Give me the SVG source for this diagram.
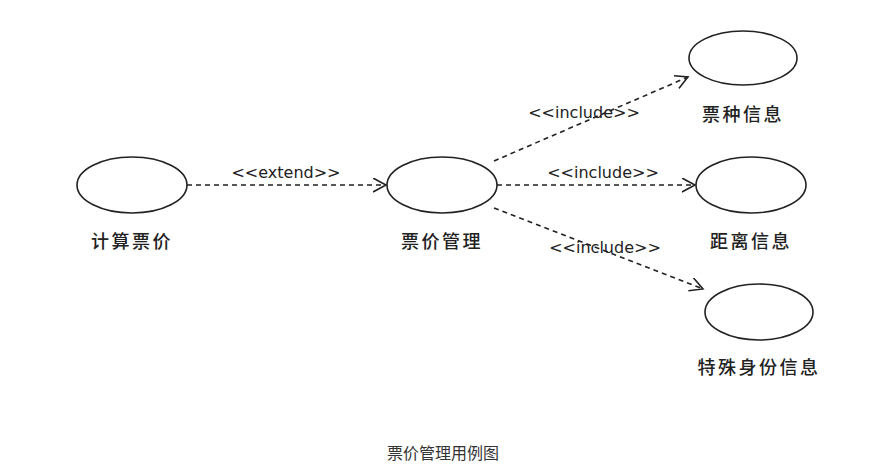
<svg xmlns="http://www.w3.org/2000/svg" width="886" height="471" viewBox="0 0 886 471">
<style>
.uc{fill:#fff;stroke:#222;stroke-width:1.6}
.lbl{font-family:"Noto Sans CJK SC","Noto Sans",sans-serif;font-size:18px;font-weight:500;fill:#222;text-anchor:middle;letter-spacing:2.5px}
.st{font-family:"DejaVu Sans","Noto Sans",sans-serif;font-size:16px;fill:#222;text-anchor:middle}
.dep{fill:none;stroke:#222;stroke-width:1.6;stroke-dasharray:5 4}
.cap{font-family:"Noto Sans CJK SC",sans-serif;font-size:16px;fill:#333;text-anchor:middle}
</style>
<defs>
<marker id="open" markerWidth="16" markerHeight="16" refX="13" refY="7" orient="auto" markerUnits="userSpaceOnUse">
<path d="M0,0 L13,7 L0,14" fill="none" stroke="#222" stroke-width="1.6"/>
</marker>
</defs>
<rect width="886" height="471" fill="#fff"/>
<g id="connectors">
<line class="dep" x1="187" y1="185" x2="386" y2="185" marker-end="url(#open)"/>
<text class="st" x="286" y="178">&lt;&lt;extend&gt;&gt;</text>
<line class="dep" x1="494" y1="161" x2="688" y2="77" marker-end="url(#open)"/>
<text class="st" x="584" y="118">&lt;&lt;include&gt;&gt;</text>
<line class="dep" x1="497" y1="185" x2="695" y2="185" marker-end="url(#open)"/>
<text class="st" x="603" y="178">&lt;&lt;include&gt;&gt;</text>
<line class="dep" x1="494" y1="208" x2="703" y2="289" marker-end="url(#open)"/>
<text class="st" x="605" y="253">&lt;&lt;include&gt;&gt;</text>
</g>
<g id="n1"><ellipse class="uc" cx="132" cy="185" rx="55" ry="28"/><text class="lbl" x="132" y="248">计算票价</text></g>
<g id="n2"><ellipse class="uc" cx="442" cy="185" rx="55" ry="28"/><text class="lbl" x="442" y="248">票价管理</text></g>
<g id="n3"><ellipse class="uc" cx="743" cy="58" rx="54" ry="27"/><text class="lbl" x="743" y="121">票种信息</text></g>
<g id="n4"><ellipse class="uc" cx="751" cy="185" rx="55" ry="28"/><text class="lbl" x="751" y="248">距离信息</text></g>
<g id="n5"><ellipse class="uc" cx="759" cy="312" rx="54" ry="28"/><text class="lbl" x="759" y="374">特殊身份信息</text></g>
<text class="cap" x="443" y="459">票价管理用例图</text>
</svg>
